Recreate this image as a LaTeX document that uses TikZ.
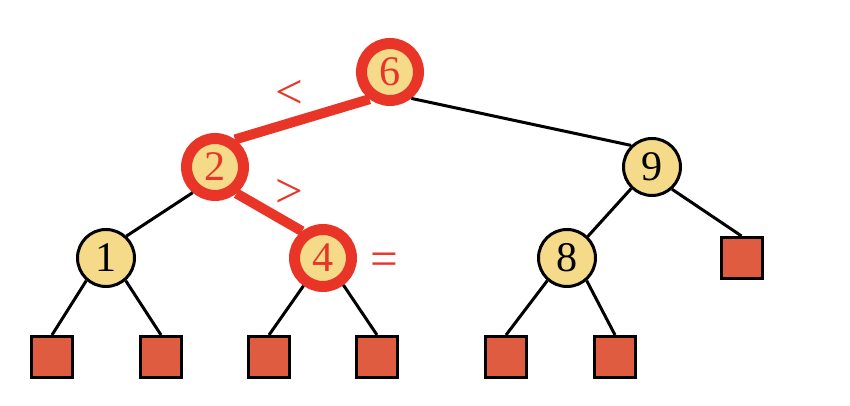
\documentclass[tikz,border=0pt]{standalone}
\usepackage{fontspec}
\setmainfont{Liberation Serif}
\definecolor{sand}{RGB}{245,218,138}
\definecolor{brick}{RGB}{223,92,64}
\definecolor{scarlet}{RGB}{232,53,40}
\begin{document}
\begin{tikzpicture}[
    key/.style={draw, shape=circle, fill=sand, line width=0.06cm, minimum size=1.14cm, inner sep=0pt, font=\fontsize{24}{26}\selectfont},
    hit/.style={key, draw=scarlet, line width=0.22cm, text=scarlet},
    leaf/.style={draw, shape=rectangle, fill=brick, line width=0.06cm, minimum size=0.82cm, inner sep=0pt},
    cmp/.style={text=scarlet, font=\fontsize{28}{30}\selectfont},
    edge/.style={line width=0.06cm},
    path/.style={line width=0.2cm, draw=scarlet}]
                            \useasboundingbox (0,0) rectangle (17,8.12);
                            \node[hit]  (n6) at (7.80,6.68)  {6};
                            \node[hit]  (n2) at (4.30,4.78)  {2};
                            \node[key]  (n9) at (13.04,4.78) {9};
                            \node[key]  (n1) at (2.12,2.96)  {1};
                            \node[hit]  (n4) at (6.46,2.96)  {4};
                            \node[key]  (n8) at (11.34,2.96) {8};
                            \node[leaf] (l9) at (14.83,2.96) {};
                            \node[leaf] (l1a) at (1.04,0.98) {};
                            \node[leaf] (l1b) at (3.22,0.98) {};
                            \node[leaf] (l4a) at (5.38,0.98) {};
                            \node[leaf] (l4b) at (7.54,0.98) {};
                            \node[leaf] (l8a) at (10.12,0.98) {};
                            \node[leaf] (l8b) at (12.30,0.98) {};
                            \node[cmp]  (lt) at (5.78,6.24) {<};
                            \node[cmp]  (gt) at (5.78,4.26) {>};
                            \node[cmp]  (eq) at (7.68,2.84) {=};
                            \draw [path] (n6.233) -- (n2.54);
                            \draw [path] (n2.309) -- (n4.128);
                            \draw [edge] (n6.309) -- (n9.134);
                            \draw [edge] (n2.229) -- (n1.47);
                            \draw [edge] (n9.226) -- (n8.46);
                            \draw [edge] (n9.312) -- (l9.north);
                            \draw [edge] (n1.229) -- (l1a.north);
                            \draw [edge] (n1.311) -- (l1b.north);
                            \draw [edge] (n4.235) -- (l4a.north);
                            \draw [edge] (n4.307) -- (l4b.north);
                            \draw [edge] (n8.229) -- (l8a.north);
                            \draw [edge] (n8.311) -- (l8b.north);
                        \end{tikzpicture}
\end{document}
